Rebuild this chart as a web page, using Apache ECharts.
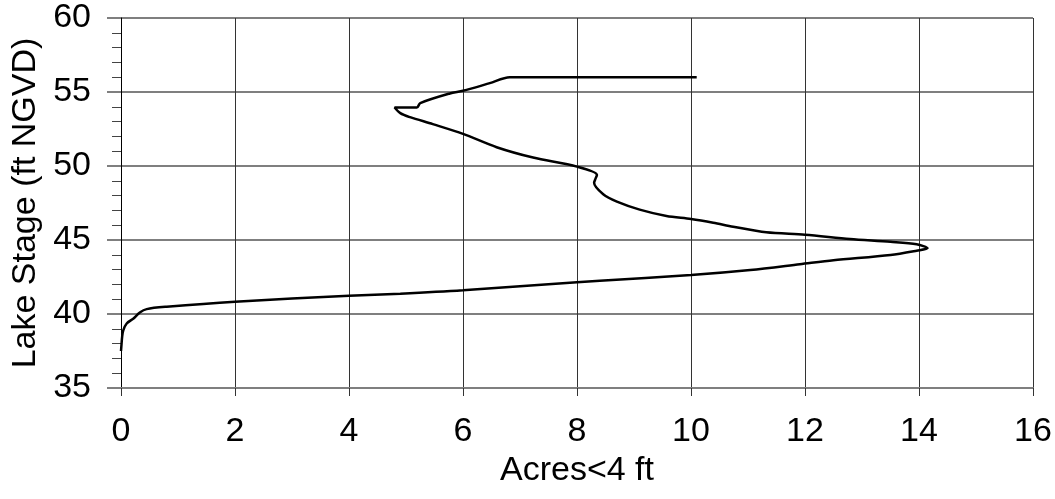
<!DOCTYPE html>
<html>
<head>
<meta charset="utf-8">
<script src="https://cdn.jsdelivr.net/npm/echarts@6/dist/echarts.min.js"></script>
<style>
  html, body { margin: 0; padding: 0; background: #fff; }
  #chart { width: 1055px; height: 499px; }
</style>
</head>
<body>
<div id="chart"></div>
<script>
// curve traced along its path, from the bottom (37.5 ft) up to the top (56 ft)
const acres = [
  0, 0.01, 0.02, 0.04, 0.1, 0.22, 0.33, 0.45, 0.8,
  2, 4, 4.9, 6, 8, 8.4, 10, 11.04, 11.91, 12.5, 13.5, 13.96, 14.15,
  13.96, 13.5, 12.79, 12, 11.32, 10.74, 10.39, 10, 9.57, 9.1, 8.7,
  8.46, 8.3, 8.32, 8.35, 8, 7.23, 6.59, 6, 5.47, 5.07, 4.9, 4.8,
  5.19, 5.25, 5.77, 6, 6.47, 6.82, 10.1
];
const stage = [
  37.5, 38.0, 38.46, 38.9, 39.36, 39.7, 40.1, 40.33, 40.49,
  40.83, 41.23, 41.37, 41.6, 42.15, 42.25, 42.63, 42.97, 43.36, 43.63, 43.99, 44.28, 44.44,
  44.71, 44.88, 45.07, 45.36, 45.52, 45.9, 46.17, 46.42, 46.62, 47.05, 47.59,
  48.09, 48.86, 49.1, 49.4, 49.96, 50.57, 51.27, 52.17, 52.83, 53.3, 53.57, 53.95,
  53.95, 54.25, 54.9, 55.08, 55.6, 56.0, 56.0
];

const xTicks = { min: 0, max: 16, step: 2 };
const yTicks = { min: 35, max: 60, step: 5 };

const points = acres.map((a, i) => [a, stage[i]]);

const font = "'Liberation Sans', Arial, sans-serif";

const chart = echarts.init(document.getElementById("chart"), null, { renderer: "canvas" });

const option = {
  backgroundColor: "#ffffff",
  animation: false,
  grid: {
    left: 121,
    top: 18,
    right: 22,
    bottom: 111,
    containLabel: false,
  },
  xAxis: {
    type: "value",
    min: xTicks.min,
    max: xTicks.max,
    interval: xTicks.step,
    name: "Acres<4 ft",
    nameLocation: "middle",
    nameGap: 63,
    nameTextStyle: { fontFamily: font, fontSize: 34, color: "#000" },
    axisLine: { show: true, lineStyle: { color: "#7f7f7f", width: 2 } },
    axisTick: { show: true, length: 8, lineStyle: { color: "#333", width: 1 } },
    axisLabel: { fontFamily: font, fontSize: 34, color: "#000", margin: 27 },
    splitLine: { show: true, lineStyle: { color: "#333", width: 1 } },
  },
  yAxis: {
    type: "value",
    min: yTicks.min,
    max: yTicks.max,
    interval: yTicks.step,
    name: "Lake Stage (ft NGVD)",
    nameLocation: "middle",
    nameGap: 76,
    nameTextStyle: { fontFamily: font, fontSize: 34, color: "#000" },
    axisLine: { show: true, lineStyle: { color: "#000", width: 1 } },
    axisTick: { show: true, length: 14, lineStyle: { color: "#7f7f7f", width: 2 } },
    minorTick: { show: true, splitNumber: 5, length: 9, lineStyle: { color: "#444", width: 1 } },
    axisLabel: { fontFamily: font, fontSize: 34, color: "#000", margin: 30 },
    splitLine: { show: true, lineStyle: { color: "#7f7f7f", width: 2 } },
  },
  series: [
    {
      type: "line",
      data: points,
      showSymbol: false,
      smooth: 0.3,
      lineStyle: { color: "#000", width: 2.5 },
      z: 5,
    },
  ],
};

chart.setOption(option);
</script>
</body>
</html>
